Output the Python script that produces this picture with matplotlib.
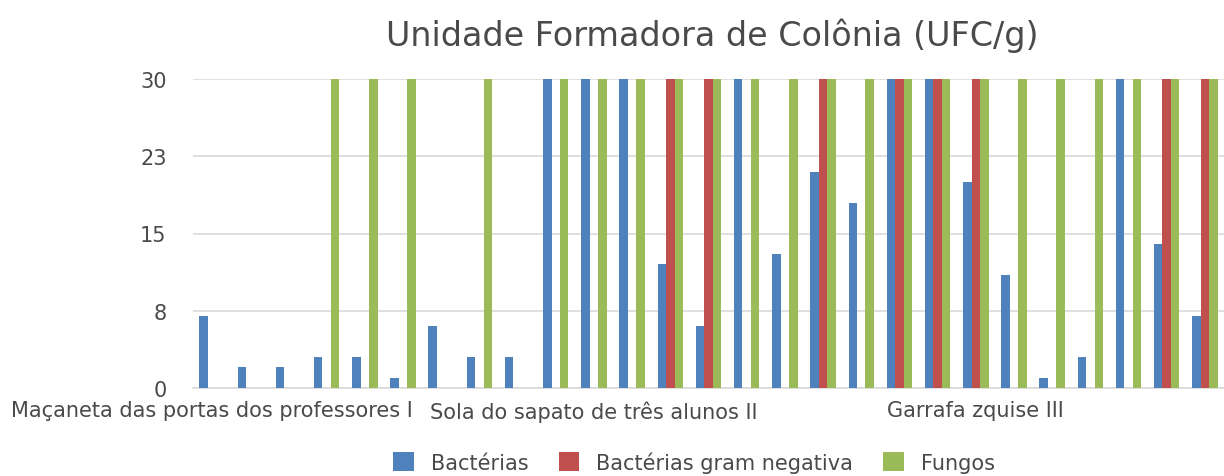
import matplotlib
matplotlib.use("Agg")
import matplotlib.pyplot as plt
import numpy as np

# Dados (27 amostras, 3 series)
categorias = ["Maçaneta das portas dos professores I"] + [""] * 9 + \
             ["Sola do sapato de três alunos II"] + [""] * 9 + \
             ["Garrafa zquise III"] + [""] * 6
bacterias = [7, 2, 2, 3, 3, 1, 6, 3, 3, 30, 30, 30, 12, 6, 30, 13, 21, 18,
             30, 30, 20, 11, 1, 3, 30, 14, 7]
gram_negativa = [0, 0, 0, 0, 0, 0, 0, 0, 0, 0, 0, 0, 30, 30, 0, 0, 30, 0,
                 30, 30, 30, 0, 0, 0, 0, 30, 30]
fungos = [0, 0, 0, 30, 30, 30, 0, 30, 0, 30, 30, 30, 30, 30, 30, 30, 30, 30,
          30, 30, 30, 30, 30, 30, 30, 30, 30]
series_nomes = ["Bactérias", "Bactérias gram negativa", "Fungos"]
cores = ["#4F81BD", "#C0504D", "#9BBB59"]
y_ticks = [0, 7.5, 15, 22.5, 30]
y_labels = ["0", "8", "15", "23", "30"]

texto = "#4A4A4A"
fig = plt.figure(figsize=(12.24, 4.77), dpi=100)
ax = fig.add_axes([193 / 1224, 88 / 477, 1031 / 1224, 309 / 477])

x = np.arange(len(categorias))
largura = 1 / 4.5
for i, (vals, nome, cor) in enumerate(zip([bacterias, gram_negativa, fungos], series_nomes, cores)):
    ax.bar(x + (i - 1) * largura, vals, largura, color=cor, label=nome, zorder=3)

ax.set_xlim(-0.5, len(categorias) - 0.5)
ax.set_ylim(0, 30)
ax.set_yticks(y_ticks)
ax.set_yticklabels(y_labels)
ax.set_xticks(x[::10])
ax.set_xticklabels(categorias[::10])
ax.tick_params(axis="both", length=0, labelsize=15, labelcolor=texto)
ax.tick_params(axis="y", pad=19)
ax.tick_params(axis="x", pad=9)
ax.grid(axis="y", color="#D9D9D9", linewidth=1.2, zorder=0)
for s in ["top", "right", "left"]:
    ax.spines[s].set_visible(False)
ax.spines["bottom"].set_color("#D9D9D9")
ax.spines["bottom"].set_linewidth(1.2)

fig.text(712 / 1224, 1 - 36 / 477, "Unidade Formadora de Colônia (UFC/g)",
         ha="center", va="center", fontsize=24, color=texto)

fig.legend(loc="center", bbox_to_anchor=(694 / 1224, 1 - 463 / 477), ncol=3,
           frameon=False, fontsize=15, labelcolor=texto, handlelength=1.0,
           handleheight=1.0, handletextpad=0.8, columnspacing=1.45)

fig.savefig("out.png", dpi=100)
